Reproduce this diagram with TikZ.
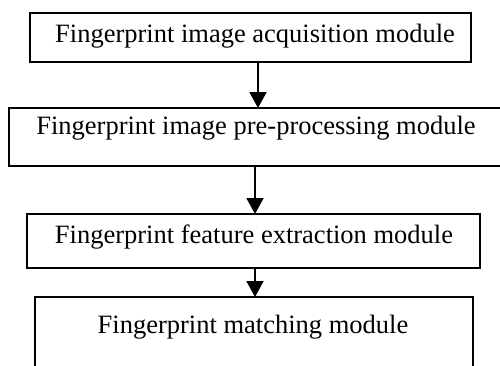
\documentclass[tikz,border=0pt]{standalone}
\usepackage{fontspec}
\setmainfont{Liberation Serif}
\usetikzlibrary{arrows.meta}
\begin{document}
\begin{tikzpicture}[x=1pt,y=-1pt,
  box/.style={draw, line width=1.9pt, inner sep=0pt, outer sep=0pt},
  lbl/.style={anchor=base, inner sep=0pt, font=\fontsize{26.5}{30}\selectfont},
  arr/.style={line width=1.9pt, -{Triangle[width=17pt,length=16pt]}}]
\useasboundingbox (0,0) rectangle (500,365);
\clip (0,0) rectangle (500,365);
\node[box, minimum width=441pt, minimum height=49pt] (b1) at (250.5,37.5) {};
\node[box, minimum width=500pt, minimum height=58pt] (b2) at (259,137) {};
\node[box, minimum width=453pt, minimum height=54pt] (b3) at (253.5,241) {};
\node[box, minimum width=438pt, minimum height=100pt] (b4) at (254,347) {};
\node[lbl] (t1) at (255,42) {Fingerprint image acquisition module};
\node[lbl] (t2) at (256,134) {Fingerprint image pre-processing module};
\node[lbl] (t3) at (254,243) {Fingerprint feature extraction module};
\node[lbl] (t4) at (253,333) {Fingerprint matching module};
\coordinate (x1) at (258,0);
\coordinate (x2) at (255,0);
\draw[arr] (b1.south -| x1) -- (b2.north -| x1);
\draw[arr] (b2.south -| x2) -- (b3.north -| x2);
\draw[arr] (b3.south -| x2) -- (b4.north -| x2);
\end{tikzpicture}
\end{document}
